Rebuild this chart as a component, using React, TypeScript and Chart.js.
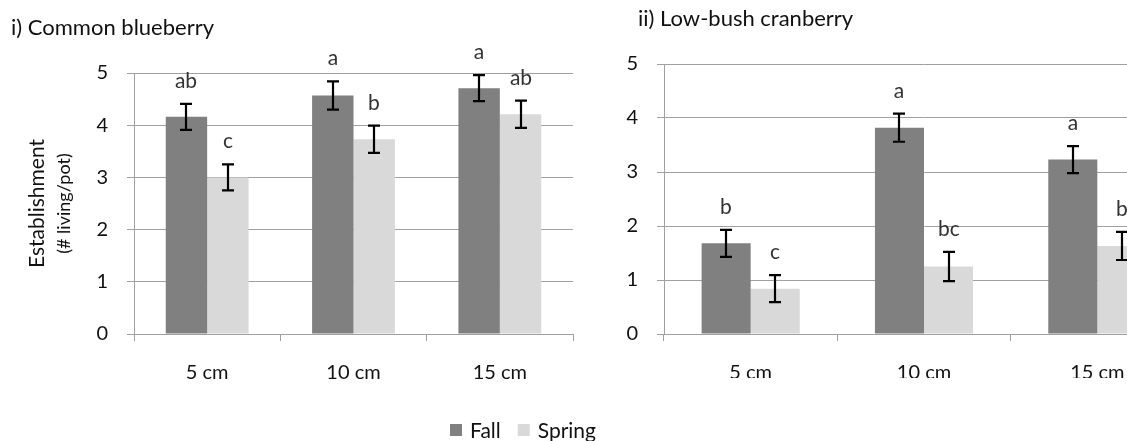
import React, { useEffect, useRef } from "react";
import { Chart, registerables } from "chart.js";

Chart.register(...registerables);

// ---------------- data ----------------
const categories = ["5 cm", "10 cm", "15 cm"];
const seriesNames = ["Fall", "Spring"];
const yTickValues = [0, 1, 2, 3, 4, 5];

const blueberryFall = [4.16, 4.57, 4.71];
const blueberrySpring = [3.0, 3.73, 4.21];
const blueberryFallErr = [0.25, 0.27, 0.25];
const blueberrySpringErr = [0.25, 0.26, 0.26];
const blueberryFallLetters = ["ab", "a", "a"];
const blueberrySpringLetters = ["c", "b", "ab"];

const cranberryFall = [1.68, 3.82, 3.23];
const cranberrySpring = [0.84, 1.25, 1.63];
const cranberryFallErr = [0.25, 0.26, 0.25];
const cranberrySpringErr = [0.25, 0.27, 0.26];
const cranberryFallLetters = ["b", "a", "a"];
const cranberrySpringLetters = ["c", "bc", "b"];

// ---------------- styling ----------------
const FONT = "Lato, 'Open Sans', sans-serif";
const FALL_COLOR = "#808080";
const SPRING_COLOR = "#d9d9d9";
const GRID_COLOR = "#a0a0a0";
const TEXT_COLOR = "#111";

const decorPlugin = {
  id: "decor",
  afterDatasetsDraw(chart: any, _args: any, opts: any) {
    const ctx = chart.ctx;
    const yScale = chart.scales.y;
    chart.data.datasets.forEach((ds: any, i: number) => {
      const meta = chart.getDatasetMeta(i);
      meta.data.forEach((bar: any, j: number) => {
        const v = ds.data[j];
        const e = ds.errors[j];
        const top = yScale.getPixelForValue(v + e);
        const bot = yScale.getPixelForValue(v - e);
        const x = Math.round(bar.x);
        ctx.save();
        ctx.strokeStyle = "#000";
        ctx.lineWidth = 2.2;
        ctx.beginPath();
        ctx.moveTo(x, top);
        ctx.lineTo(x, bot);
        ctx.moveTo(x - 6, top);
        ctx.lineTo(x + 6, top);
        ctx.moveTo(x - 6, bot);
        ctx.lineTo(x + 6, bot);
        ctx.stroke();
        ctx.fillStyle = "#333";
        ctx.font = `21px ${FONT}`;
        ctx.textAlign = "center";
        ctx.textBaseline = "alphabetic";
        ctx.fillText(ds.letters[j], x, top - 16);
        ctx.restore();
      });
    });
  },
  afterDraw(chart: any, _args: any, opts: any) {
    const ctx = chart.ctx;
    ctx.save();
    ctx.fillStyle = TEXT_COLOR;
    // panel title
    ctx.font = `22px ${FONT}`;
    ctx.textAlign = "left";
    ctx.textBaseline = "alphabetic";
    ctx.fillText(opts.title, opts.titleX, opts.titleY);
    // y-axis title
    if (opts.yTitle) {
      const cy = (chart.chartArea.top + chart.chartArea.bottom) / 2;
      ctx.save();
      ctx.translate(opts.yTitleX, cy);
      ctx.rotate(-Math.PI / 2);
      ctx.textAlign = "center";
      ctx.textBaseline = "middle";
      ctx.font = `21px ${FONT}`;
      ctx.fillText(opts.yTitle[0], 0, 0);
      ctx.font = `18px ${FONT}`;
      ctx.fillText(opts.yTitle[1], 0, opts.yTitleGap);
      ctx.restore();
    }
    // legend
    if (opts.legend) {
      let x = opts.legendX;
      const y = opts.legendY;
      chart.data.datasets.forEach((ds: any) => {
        ctx.fillStyle = ds.backgroundColor;
        ctx.fillRect(x, y - 6, 12, 12);
        ctx.fillStyle = TEXT_COLOR;
        ctx.font = `21px ${FONT}`;
        ctx.textAlign = "left";
        ctx.textBaseline = "middle";
        ctx.fillText(ds.label, x + 20, y + 1);
        x += 20 + ctx.measureText(ds.label).width + 17;
      });
    }
    ctx.restore();
  },
};

type PanelProps = {
  fall: number[];
  spring: number[];
  fallErr: number[];
  springErr: number[];
  fallLetters: string[];
  springLetters: string[];
  width: number;
  height: number;
  padLeftAxis: number;
  padTop: number;
  padRight: number;
  xAxisHeight: number;
  decor: any;
};

function Panel(p: PanelProps) {
  const ref = useRef<HTMLCanvasElement>(null);
  useEffect(() => {
    if (!ref.current) return;
    const chart = new Chart(ref.current, {
      type: "bar",
      data: {
        labels: categories,
        datasets: [
          {
            label: seriesNames[0],
            data: p.fall,
            backgroundColor: FALL_COLOR,
            errors: p.fallErr,
            letters: p.fallLetters,
          } as any,
          {
            label: seriesNames[1],
            data: p.spring,
            backgroundColor: SPRING_COLOR,
            errors: p.springErr,
            letters: p.springLetters,
          } as any,
        ],
      },
      options: {
        responsive: false,
        animation: false,
        devicePixelRatio: 1,
        layout: { padding: { left: 0, top: p.padTop, right: p.padRight, bottom: 0 } },
        datasets: { bar: { categoryPercentage: 0.566, barPercentage: 1, borderWidth: 0 } },
        plugins: {
          legend: { display: false },
          tooltip: { enabled: false },
          title: { display: false },
          decor: p.decor,
        } as any,
        scales: {
          x: {
            grid: {
              display: true,
              offset: true,
              drawOnChartArea: false,
              drawTicks: true,
              tickLength: 7,
              color: GRID_COLOR,
            },
            border: { display: true, color: GRID_COLOR },
            ticks: {
              color: TEXT_COLOR,
              font: { family: FONT, size: 20 },
              padding: 20,
              maxRotation: 0,
            },
            afterFit: (s: any) => {
              s.height = p.xAxisHeight;
            },
          },
          y: {
            min: 0,
            max: 5,
            afterBuildTicks: (s: any) => {
              s.ticks = yTickValues.map((v) => ({ value: v }));
            },
            grid: { color: GRID_COLOR, tickLength: 7, drawTicks: true },
            border: { display: true, color: GRID_COLOR },
            ticks: {
              color: TEXT_COLOR,
              font: { family: FONT, size: 20 },
              padding: 19,
            },
            afterFit: (s: any) => {
              s.width = p.padLeftAxis;
            },
          },
        },
      },
      plugins: [decorPlugin],
    });
    return () => chart.destroy();
  }, []);
  return (
    <canvas
      ref={ref}
      width={p.width}
      height={p.height}
      style={{ width: p.width, height: p.height, display: "block" }}
    />
  );
}

export default function App() {
  return (
    <div
      style={{
        position: "absolute",
        left: 0,
        top: 0,
        width: 1127,
        height: 441,
        background: "#fff",
        overflow: "hidden",
      }}
    >
      <div style={{ position: "absolute", left: 0, top: 0, width: 605, height: 441 }}>
        <Panel
          fall={blueberryFall}
          spring={blueberrySpring}
          fallErr={blueberryFallErr}
          springErr={blueberrySpringErr}
          fallLetters={blueberryFallLetters}
          springLetters={blueberrySpringLetters}
          width={605}
          height={441}
          padLeftAxis={134}
          padTop={73}
          padRight={32}
          xAxisHeight={107}
          decor={{
            title: "i) Common blueberry",
            titleX: 11,
            titleY: 35,
            yTitle: ["Establishment", "(# living/pot)"],
            yTitleX: 37,
            yTitleGap: 27,
            legend: true,
            legendX: 450,
            legendY: 430,
          }}
        />
      </div>
      <div
        style={{
          position: "absolute",
          left: 605,
          top: 0,
          width: 522,
          height: 378,
          overflow: "hidden",
        }}
      >
        <Panel
          fall={cranberryFall}
          spring={cranberrySpring}
          fallErr={cranberryFallErr}
          springErr={cranberrySpringErr}
          fallLetters={cranberryFallLetters}
          springLetters={cranberrySpringLetters}
          width={620}
          height={441}
          padLeftAxis={59}
          padTop={64}
          padRight={41}
          xAxisHeight={107}
          decor={{
            title: "ii) Low-bush cranberry",
            titleX: 33,
            titleY: 26,
            yTitle: null,
            legend: false,
          }}
        />
      </div>
    </div>
  );
}
